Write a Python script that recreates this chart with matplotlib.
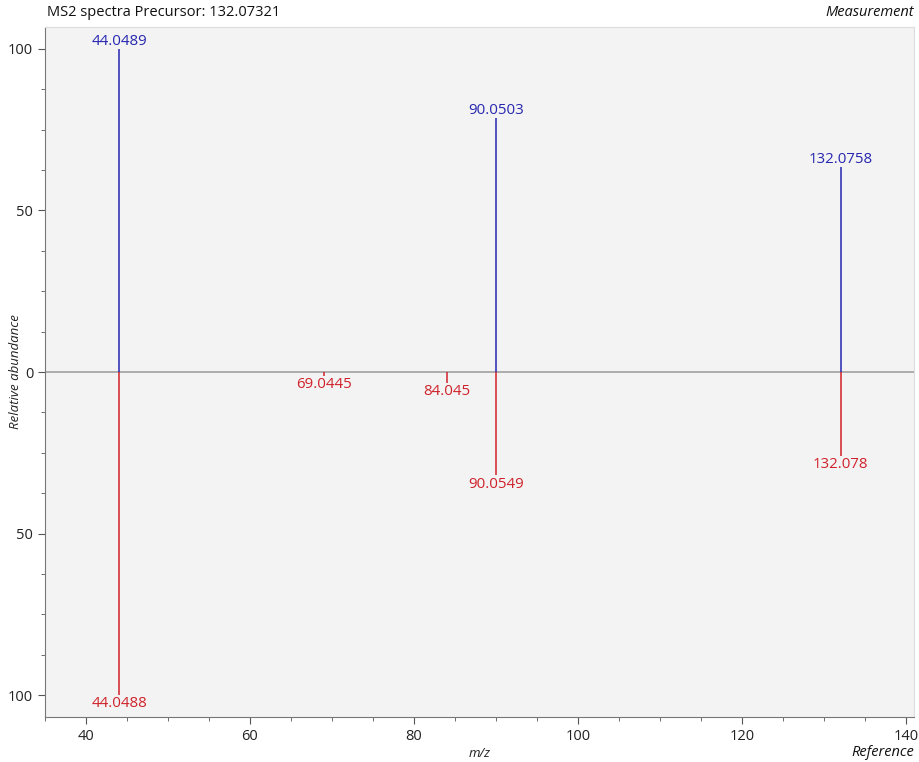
import matplotlib
matplotlib.use("Agg")
import matplotlib.pyplot as plt
from matplotlib.ticker import MultipleLocator, FuncFormatter

# measured spectrum (upper half)
meas_mz = [44.0489, 90.0503, 132.0758]
meas_int = [100, 78.6, 63.6]

# reference spectrum (mirrored below)
ref_mz = [44.0488, 69.0445, 84.045, 90.0549, 132.078]
ref_int = [100, 1.2, 3.4, 32.0, 26.0]
ref_labels = ["44.0488", "69.0445", "84.045", "90.0549", "132.078"]
meas_labels = ["44.0489", "90.0503", "132.0758"]

BLUE = "#2626b0"
RED = "#d0212a"
FONT = ["Open Sans", "DejaVu Sans"]

plt.rcParams["font.family"] = FONT

fig = plt.figure(figsize=(9.19, 7.62), dpi=100)
ax = fig.add_axes([45 / 919, 1 - 717 / 762, 869 / 919, 690 / 762])
ax.set_facecolor("#f3f3f3")

ax.axhline(0, color="#9a9a9a", linewidth=1.1, zorder=1)
ax.vlines(meas_mz, 0, meas_int, color=BLUE, linewidth=1.1, zorder=2)
ax.vlines(ref_mz, 0, [-v for v in ref_int], color=RED, linewidth=1.1, zorder=2)

for mz, v, lab in zip(meas_mz, meas_int, meas_labels):
    ax.annotate(lab, xy=(mz, v), xytext=(0, 0), textcoords="offset points",
                ha="center", va="bottom", fontsize=10.8, color=BLUE)
for mz, v, lab in zip(ref_mz, ref_int, ref_labels):
    ax.annotate(lab, xy=(mz, -v), xytext=(0, -1), textcoords="offset points",
                ha="center", va="top", fontsize=10.8, color=RED)

ax.set_xlim(35, 141)
ax.set_ylim(-106.8, 106.8)
ax.xaxis.set_major_locator(MultipleLocator(20))
ax.xaxis.set_minor_locator(MultipleLocator(5))
ax.yaxis.set_major_locator(MultipleLocator(50))
ax.yaxis.set_minor_locator(MultipleLocator(12.5))
ax.yaxis.set_major_formatter(FuncFormatter(lambda v, p: f"{abs(v):.0f}"))
ax.tick_params(which="both", colors="#555555", labelcolor="#222222", labelsize=10.5)
ax.tick_params(which="major", length=5)
ax.tick_params(which="minor", length=3)

for side in ("top", "right"):
    ax.spines[side].set_color("#dddddd")
for side in ("left", "bottom"):
    ax.spines[side].set_color("#777777")

ax.set_xlabel("m/z", style="italic", fontsize=9.5, color="#222222", labelpad=2)
ax.set_ylabel("Relative abundance", style="italic", fontsize=9.5, color="#222222")
ax.yaxis.set_label_coords(-0.026, 0.5)

fig.text(47 / 919, 1 - 12 / 762, "MS2 spectra Precursor: 132.07321", fontsize=10.5,
         va="center", ha="left", color="#111111")
fig.text(914 / 919, 1 - 12 / 762, "Measurement", fontsize=10.5, style="italic",
         va="center", ha="right", color="#111111")
fig.text(914 / 919, 1 - 753 / 762, "Reference", fontsize=10.5, style="italic",
         va="center", ha="right", color="#111111")

fig.savefig("out.png", dpi=100)
